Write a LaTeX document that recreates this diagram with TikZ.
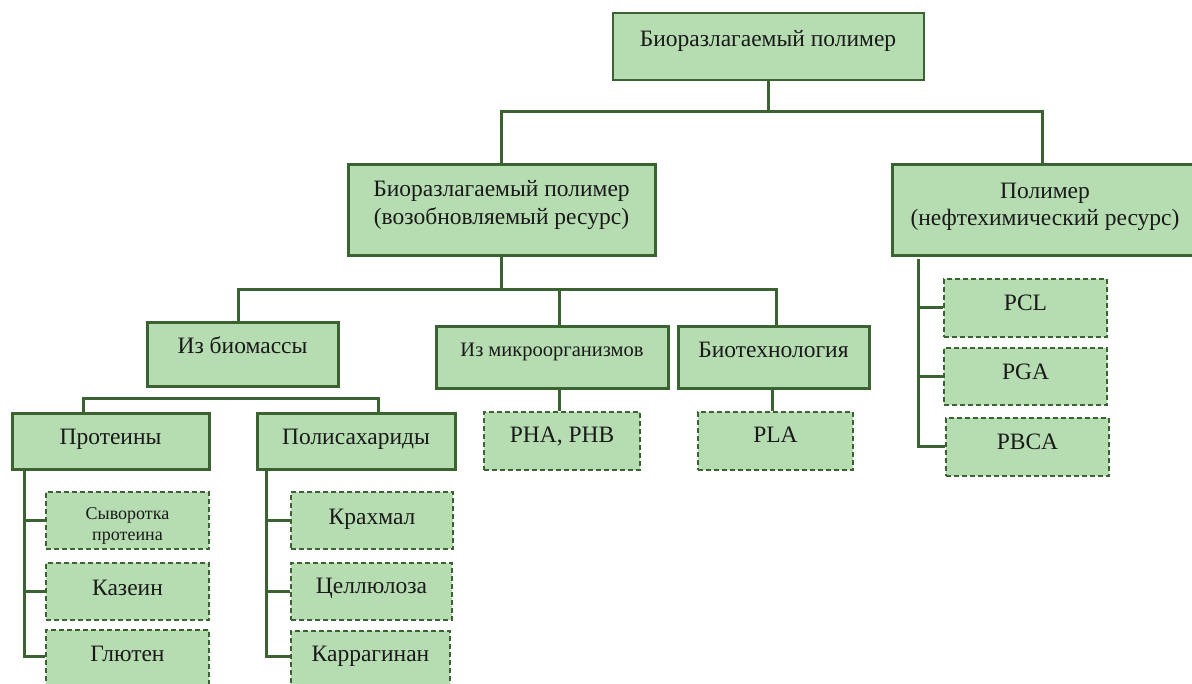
\documentclass[tikz,border=0pt]{standalone}
\usepackage{fontspec}
\setmainfont{Liberation Serif}
\definecolor{fillg}{HTML}{B6DCB1}
\definecolor{bord}{HTML}{3B6332}
\definecolor{txtc}{HTML}{1A1A1A}
\tikzset{
  box/.style={draw=bord, fill=fillg, line width=3pt, inner sep=0pt},
  dbox/.style={draw=bord, fill=fillg, line width=2.5pt, dash pattern=on 5pt off 3pt, inner sep=0pt},
  conn/.style={draw=bord, line width=3pt},
  lbl/.style={anchor=base, inner sep=0pt, text=txtc, font=\fontsize{23.5}{27}\selectfont},
  lblm/.style={lbl, font=\fontsize{20.5}{24}\selectfont},
  lbls/.style={lbl, font=\fontsize{18}{21}\selectfont},
}
\begin{document}
\begin{tikzpicture}[x=1pt,y=-1pt]
\fill[white] (0,0) rectangle (1192,684);
\useasboundingbox (0,0) rectangle (1192,684);

% boxes
\node[box, line width=2pt, minimum width=311pt, minimum height=67pt] (top) at (768,46.5) {};
\node[box, minimum width=307pt, minimum height=91pt] (b2) at (501.5,210.5) {};
\node[box, minimum width=308pt, minimum height=91pt] (b3) at (1046,210.5) {};
\node[box, minimum width=191pt, minimum height=64pt] (bio) at (242.5,355) {};
\node[box, minimum width=232pt, minimum height=62pt] (mic) at (552,358) {};
\node[box, minimum width=191pt, minimum height=62pt] (btech) at (773.5,358) {};
\node[box, minimum width=197pt, minimum height=56pt] (prot) at (110.5,442) {};
\node[box, minimum width=198pt, minimum height=56pt] (poly) at (356,442) {};

\node[dbox, minimum width=156pt, minimum height=58pt] (phb) at (562,441) {};
\node[dbox, minimum width=155pt, minimum height=58pt] (pla) at (775.5,441) {};
\node[dbox, minimum width=163pt, minimum height=58pt] (pcl) at (1025.5,308) {};
\node[dbox, minimum width=163pt, minimum height=57pt] (pga) at (1025.5,376.5) {};
\node[dbox, minimum width=163pt, minimum height=58pt] (pbca) at (1027.5,447) {};
\node[dbox, minimum width=163pt, minimum height=57pt] (syv) at (127.5,520.5) {};
\node[dbox, minimum width=163pt, minimum height=57pt] (kaz) at (127.5,591.5) {};
\node[dbox, minimum width=163pt, minimum height=60pt] (glu) at (127.5,660) {};
\node[dbox, minimum width=162pt, minimum height=57pt] (kra) at (372,520.5) {};
\node[dbox, minimum width=161pt, minimum height=57pt] (cel) at (371.5,591.5) {};
\node[dbox, minimum width=159pt, minimum height=59pt] (kar) at (370.5,660.5) {};

% labels
\node[lbl] (topt) at (768,47) {Биоразлагаемый полимер};
\node[lbl] (b2t1) at (501.5,197) {Биоразлагаемый полимер};
\node[lbl] (b2t2) at (501.5,225) {(возобновляемый ресурс)};
\node[lbl] (b3t1) at (1045,199) {Полимер};
\node[lbl] (b3t2) at (1045,226) {(нефтехимический ресурс)};
\node[lbl] (biot) at (242.5,354) {Из биомассы};
\node[lblm] (mict) at (552,357) {Из микроорганизмов};
\node[lbl] (btecht) at (773.5,358) {Биотехнология};
\node[lbl] (prott) at (110.5,445) {Протеины};
\node[lbl] (polyt) at (356,445) {Полисахариды};
\node[lbl] (phbt) at (562,443) {PHA, PHB};
\node[lbl] (plat) at (775.5,443) {PLA};
\node[lbl] (pclt) at (1025.5,311) {PCL};
\node[lbl] (pgat) at (1025.5,380) {PGA};
\node[lbl] (pbcat) at (1027.5,450) {PBCA};
\node[lbls] (syvt1) at (127.5,519) {Сыворотка};
\node[lbls] (syvt2) at (127.5,540) {протеина};
\node[lbl] (kazt) at (127.5,595) {Казеин};
\node[lbl] (glut) at (127.5,661) {Глютен};
\node[lbl] (krat) at (372,524) {Крахмал};
\node[lbl] (celt) at (371.5,593) {Целлюлоза};
\node[lbl] (kart) at (370.5,661) {Каррагинан};

% junction coordinates
\coordinate (j1) at (768,112);
\coordinate (j1l) at (501.5,112);
\coordinate (j1r) at (1042,112);
\coordinate (j2) at (501.5,290);
\coordinate (j2l) at (238,290);
\coordinate (j2m) at (559.5,290);
\coordinate (j2r) at (776,290);
\coordinate (j3l) at (83,399);
\coordinate (j3r) at (378,399);
\coordinate (pv1) at (24,520.5);
\coordinate (pv2) at (24,591.5);
\coordinate (pv3) at (24,656);
\coordinate (sv1) at (266,520.5);
\coordinate (sv2) at (266,591.5);
\coordinate (sv3) at (266,656);
\coordinate (rv0) at (918,259);
\coordinate (rv1) at (918,308);
\coordinate (rv2) at (918,376.5);
\coordinate (rv3) at (918,447);
\coordinate (tl) at (772,300);

% connectors
\draw[conn] (top.south) -- (j1);
\draw[conn] (b2.north) -- (j1l) -- (j1r) -- (j1r|-b3.north);
\draw[conn] (b2.south) -- (j2);
\draw[conn] (j2l|-bio.north) -- (j2l) -- (j2r) -- (j2r|-btech.north);
\draw[conn] (j2m) -- (j2m|-mic.north);
\draw[conn] (j2m|-mic.south) -- (j2m|-phb.north);
\draw[conn] (tl|-btech.south) -- (tl|-pla.north);
\draw[conn] (j3l|-prot.north) -- (j3l) -- (j3r) -- (j3r|-poly.north);
\draw[conn] (pv1|-prot.south) -- (pv3) -- (pv3-|glu.west);
\draw[conn] (pv1) -- (syv.west);
\draw[conn] (pv2) -- (kaz.west);
\draw[conn] (sv1|-poly.south) -- (sv3) -- (sv3-|kar.west);
\draw[conn] (sv1) -- (kra.west);
\draw[conn] (sv2) -- (cel.west);
\draw[conn] (rv0) -- (rv3) -- (rv3-|pbca.west);
\draw[conn] (rv1) -- (pcl.west);
\draw[conn] (rv2) -- (pga.west);
\end{tikzpicture}
\end{document}
